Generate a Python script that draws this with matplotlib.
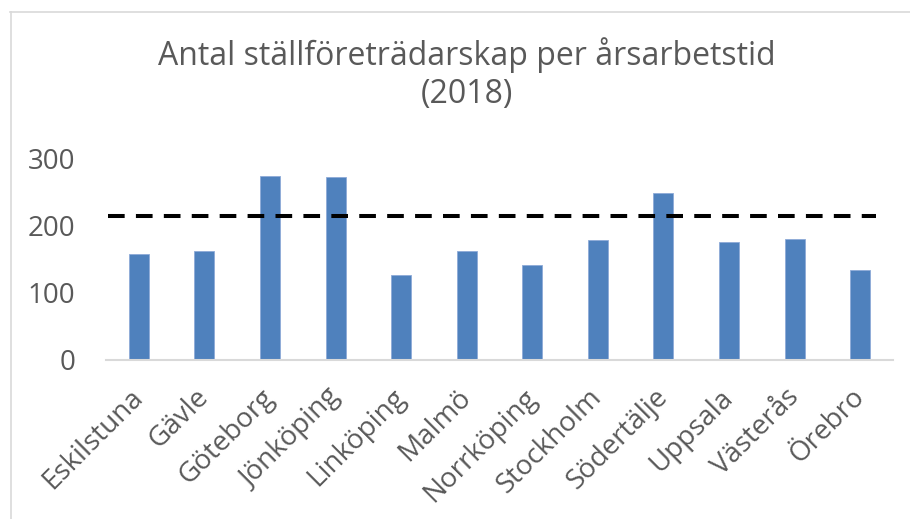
import matplotlib
matplotlib.use("Agg")
import matplotlib.pyplot as plt
from matplotlib.lines import Line2D

plt.rcParams['font.family'] = ['Open Sans', 'DejaVu Sans']
plt.rcParams['lines.scale_dashes'] = False

orter = ['Eskilstuna', 'Gävle', 'Göteborg', 'Jönköping', 'Linköping', 'Malmö',
         'Norrköping', 'Stockholm', 'Södertälje', 'Uppsala', 'Västerås', 'Örebro']
antal = [157, 162, 274, 272, 127, 162, 141, 179, 248, 176, 180, 134]
snitt = 214
yticks = [0, 100, 200, 300]

grey = '#595959'
blue = '#4f81bd'

fig = plt.figure(figsize=(9.10, 5.19), dpi=100)
ax = fig.add_axes([0.1165, 0.3064, 0.8648, 0.3886])

x = range(len(orter))
ax.bar(x, antal, width=0.305, color=blue, edgecolor='#8eaad8', linewidth=0.6)
ax.axhline(snitt, xmin=0.003, xmax=0.979, color='black', linewidth=2.9,
           dashes=(12, 8.1))

ax.set_xlim(-0.5, len(orter) - 0.5)
ax.set_ylim(0, 300)
ax.set_yticks(yticks)
ax.set_yticklabels([str(t) for t in yticks], fontsize=20, color=grey)
ax.set_xticks(list(x))
ax.set_xticklabels(orter, fontsize=20, color=grey, rotation=45,
                   ha='right', va='center', rotation_mode='anchor')
ax.tick_params(axis='y', length=0, pad=22)
ax.tick_params(axis='x', length=0, pad=24)

for side in ['top', 'right', 'left']:
    ax.spines[side].set_visible(False)
ax.spines['bottom'].set_color('#d9d9d9')
ax.spines['bottom'].set_linewidth(1.5)

fig.text(0.513, 1 - 65 / 519, 'Antal ställföreträdarskap per årsarbetstid',
         ha='center', va='baseline', fontsize=23, color=grey)
fig.text(0.513, 1 - 103 / 519, '(2018)',
         ha='center', va='baseline', fontsize=23, color=grey)

# chart frame (top and left edges)
fig.add_artist(Line2D([10 / 910, 1], [1 - 11.5 / 519, 1 - 11.5 / 519],
                      transform=fig.transFigure, color='#d9d9d9', linewidth=1.2))
fig.add_artist(Line2D([10.5 / 910, 10.5 / 910], [0, 1 - 11.5 / 519],
                      transform=fig.transFigure, color='#d9d9d9', linewidth=1.2))

fig.savefig('out.png', dpi=100)
